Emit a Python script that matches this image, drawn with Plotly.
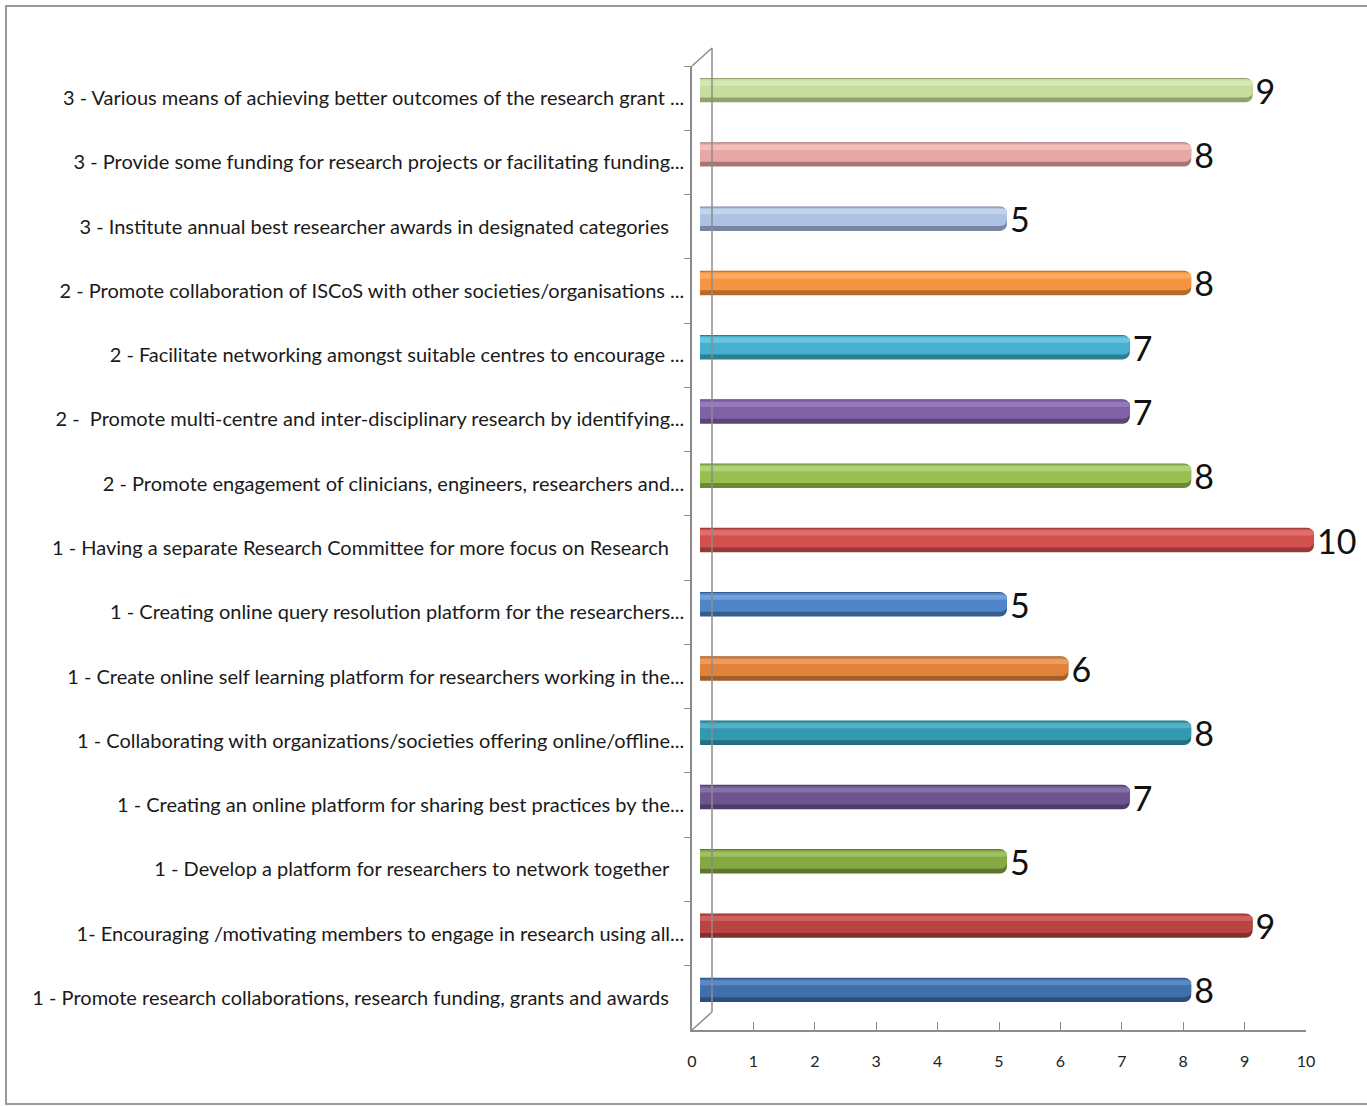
import plotly.graph_objects as go

categories = [
    "3 - Various means of achieving better outcomes of the research grant ...",
    "3 - Provide some funding for research projects or facilitating funding...",
    "3 - Institute annual best researcher awards in designated categories\u00a0\u00a0\u00a0",
    "2 - Promote collaboration of ISCoS with other societies/organisations ...",
    "2 - Facilitate networking amongst suitable centres to encourage ...",
    "2 -  Promote multi-centre and inter-disciplinary research by identifying...",
    "2 - Promote engagement of clinicians, engineers, researchers and...",
    "1 - Having a separate Research Committee for more focus on Research\u00a0\u00a0\u00a0",
    "1 - Creating online query resolution platform for the researchers...",
    "1 - Create online self learning platform for researchers working in the...",
    "1 - Collaborating with organizations/societies offering online/offline...",
    "1 - Creating an online platform for sharing best practices by the...",
    "1 - Develop a platform for researchers to network together\u00a0\u00a0\u00a0",
    "1- Encouraging /motivating members to engage in research using all...",
    "1 - Promote research collaborations, research funding, grants and awards\u00a0\u00a0\u00a0",
]
values = [9, 8, 5, 8, 7, 7, 8, 10, 5, 6, 8, 7, 5, 9, 8]
colors = ["#c6dd9c", "#e8a6a5", "#adc1e2", "#f7943f", "#45b0cf", "#8061a6", "#98bf50",
          "#d2504e", "#4f86c8", "#e0823a", "#3399b0", "#6d5590", "#85a843", "#b94441", "#3f70ac"]
edges = ["#8fa46c", "#a87575", "#7787a3", "#b36a2c", "#2e7d93", "#594575", "#6b8a38",
         "#963836", "#365d8d", "#a25d2a", "#236e7f", "#4d3c66", "#5d762f", "#832f2d", "#2c4f7a"]
highlights = ["#d6e8b6", "#f0bebd", "#c4d3ec", "#fbab66", "#6cc4de", "#9579bb", "#afd178",
              "#e06e6c", "#72a0d8", "#ea9d60", "#56b0c4", "#8570a8", "#9fc063", "#cc615e", "#5b89c2"]

FONT = "Lato"
W, H = 1367, 1106
L, R, T, B = 692, 53, 58, 76
PW = W - L - R   # 622
PH = H - T - B   # 972
DX, DY = 8, 8
N = len(categories)

fig = go.Figure()

# bar layers (cylinder look)
fig.add_trace(go.Bar(
    x=values, y=categories, orientation="h", xaxis="x", yaxis="y2",
    width=0.38, offset=-0.19,
    marker=dict(color=edges, line=dict(width=0), cornerradius=7),
    text=[str(v) for v in values], textposition="outside", constraintext="none",
    textfont=dict(family=FONT, size=34, color="#111111"),
    cliponaxis=False, hoverinfo="skip", showlegend=False))
fig.add_trace(go.Bar(
    x=values, y=categories, orientation="h", xaxis="x", yaxis="y2",
    width=0.29, offset=-0.175,
    marker=dict(color=colors, line=dict(width=0), cornerradius=6),
    cliponaxis=False, hoverinfo="skip", showlegend=False))
fig.add_trace(go.Bar(
    x=values, y=categories, orientation="h", xaxis="x", yaxis="y2",
    width=0.08, offset=-0.15,
    marker=dict(color=highlights, line=dict(width=0), cornerradius=3),
    cliponaxis=False, hoverinfo="skip", showlegend=False))

# invisible trace carrying the visible axes
fig.add_trace(go.Scatter(
    x=values, y=categories, xaxis="x2", yaxis="y", mode="markers",
    marker=dict(opacity=0), hoverinfo="skip", showlegend=False))

axis_col = "#8c8c8c"
fig.update_layout(
    width=W, height=H,
    margin=dict(l=L, r=R, t=T, b=B, autoexpand=False),
    paper_bgcolor="white", plot_bgcolor="rgba(0,0,0,0)",
    barmode="overlay",
    font=dict(family=FONT, color="#222222"),
    xaxis=dict(domain=[DX / PW, 1], range=[0, 10], anchor="y2", visible=False, fixedrange=True),
    yaxis2=dict(domain=[DY / PH, 1], type="category", range=[N - 0.5, -0.5],
                anchor="x", visible=False, categoryorder="array", categoryarray=categories),
    xaxis2=dict(domain=[0, (PW - DX) / PW], range=[0, 10], anchor="y",
                showline=True, linecolor=axis_col, linewidth=1.5,
                ticks="inside", ticklen=8, tickcolor=axis_col, tickwidth=1,
                dtick=1, tick0=0, showgrid=False, zeroline=False,
                tickfont=dict(family=FONT, size=16, color="#222222"), ticklabelstandoff=16),
    yaxis=dict(domain=[0, (PH - DY) / PH], type="category", range=[N - 0.5, -0.5],
               anchor="x2", categoryorder="array", categoryarray=categories,
               showline=True, linecolor=axis_col, linewidth=1.5,
               ticks="outside", ticklen=6, tickcolor=axis_col, tickson="boundaries",
               showgrid=False, tickfont=dict(family=FONT, size=20, color="#1a1a1a"),
               ticklabelstandoff=2),
)

def px(x):
    return (x - L) / PW

def py(y):
    return (H - B - y) / PH

shapes = [
    dict(type="line", xref="paper", yref="paper", x0=px(712), x1=px(712), y0=py(1012), y1=py(48),
         line=dict(color=axis_col, width=1.5)),
    dict(type="line", xref="paper", yref="paper", x0=px(692), x1=px(712), y0=py(66), y1=py(48),
         line=dict(color=axis_col, width=1.5)),
    dict(type="line", xref="paper", yref="paper", x0=px(692), x1=px(712), y0=py(1030), y1=py(1012),
         line=dict(color=axis_col, width=1.5)),
    dict(type="rect", xref="paper", yref="paper", x0=px(6), x1=px(1380), y0=py(1104), y1=py(6),
         line=dict(color="#9a9a9a", width=2), layer="below"),
]
fig.update_layout(shapes=shapes)

fig.write_html("out.html")
